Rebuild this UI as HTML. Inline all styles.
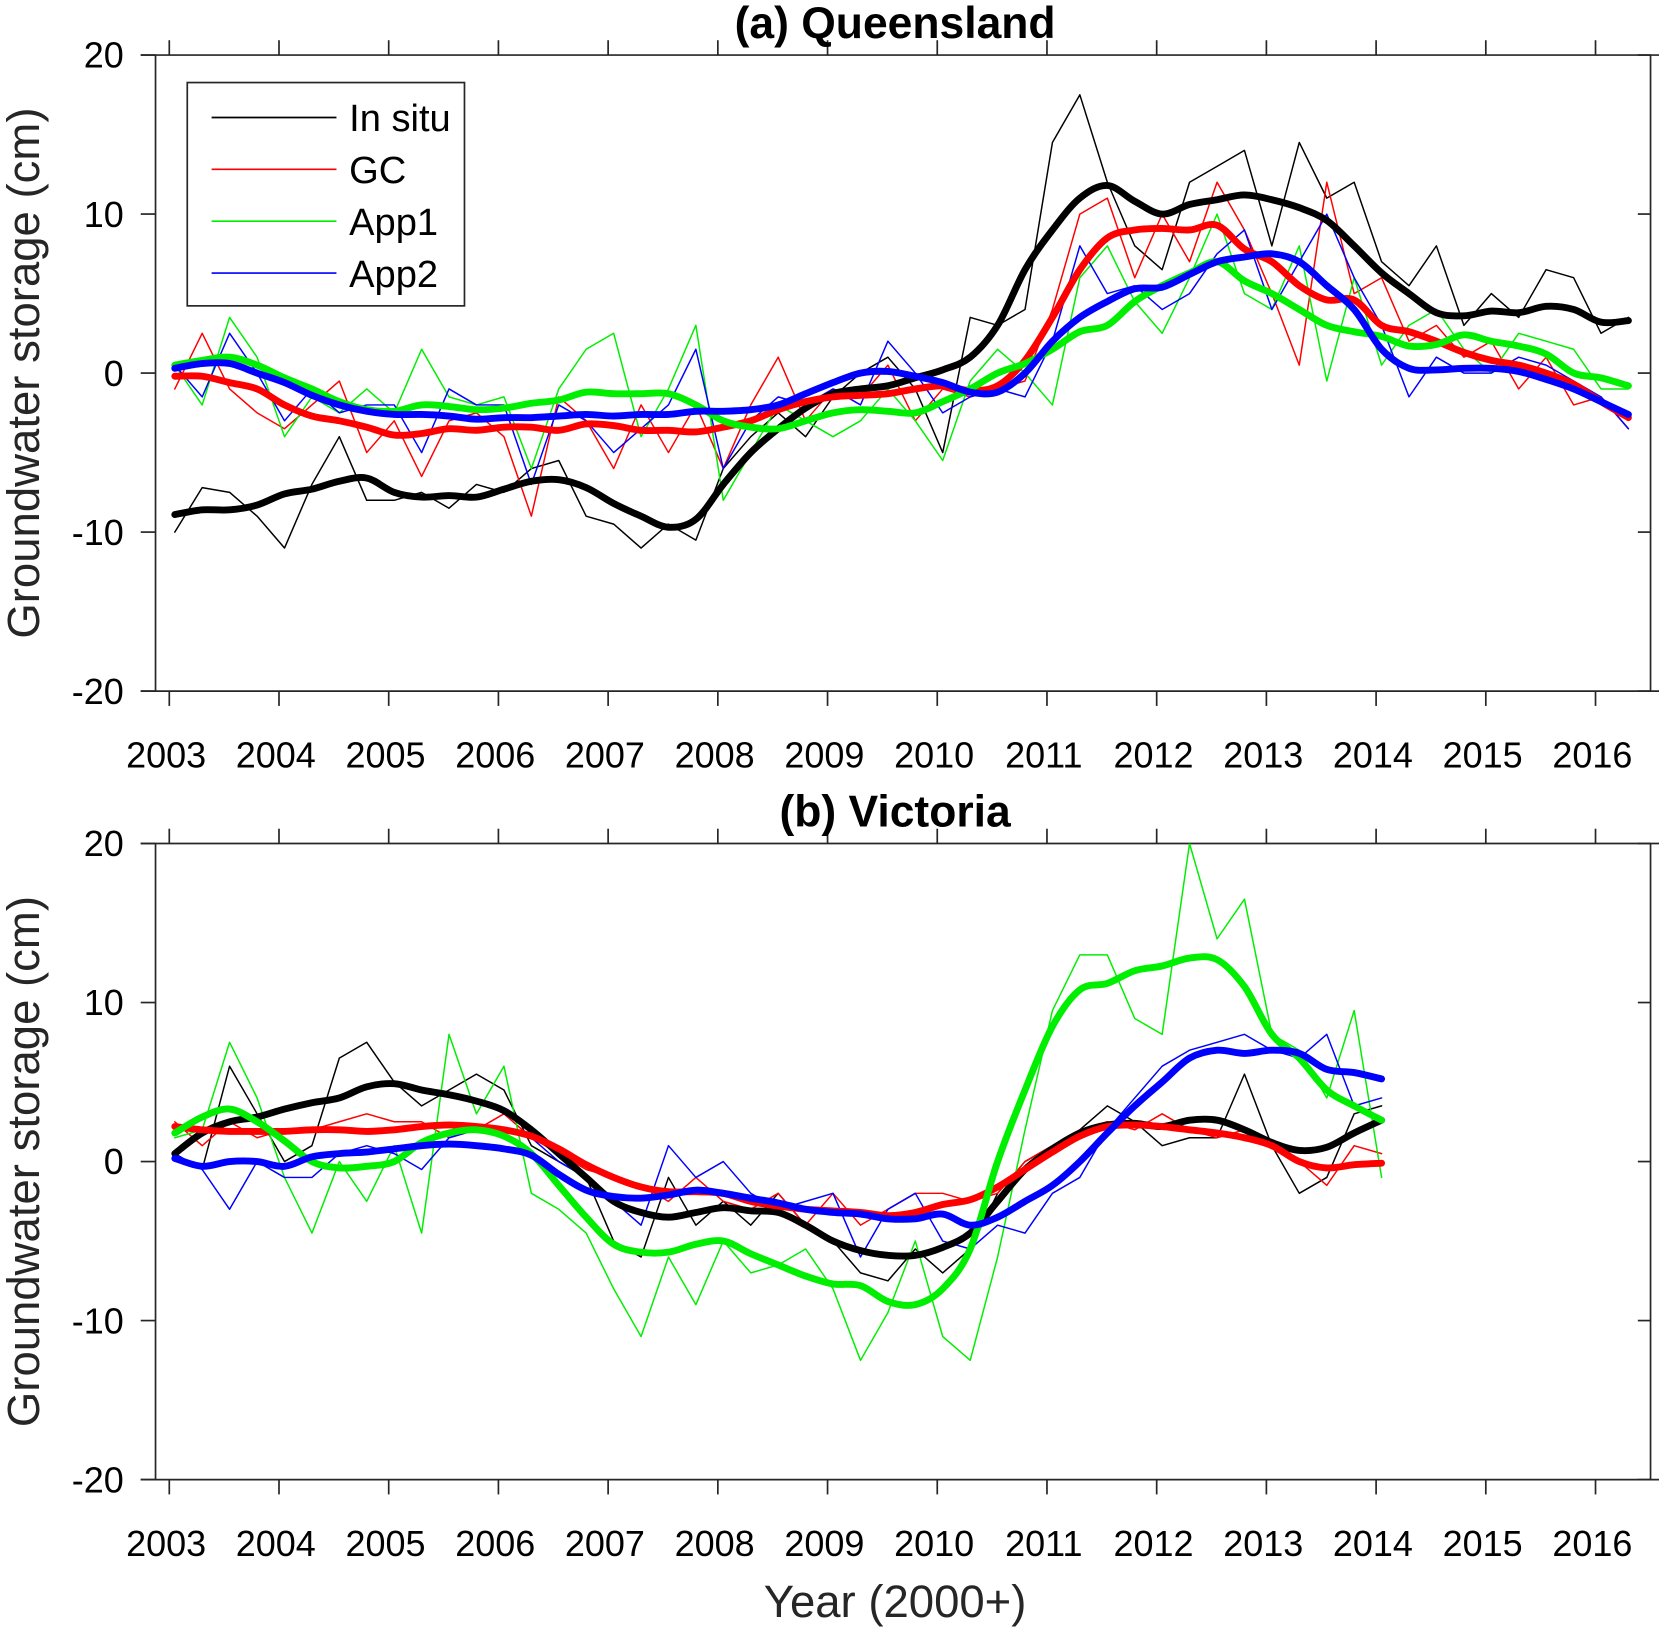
<!DOCTYPE html>
<html><head><meta charset="utf-8"><style>
html,body{margin:0;padding:0;background:#fff;}
svg{display:block;font-family:"Liberation Sans",Arial,sans-serif;}
</style></head><body>
<svg id="chart" width="1659" height="1632" viewBox="0 0 1568 1542" preserveAspectRatio="none" xmlns="http://www.w3.org/2000/svg"></svg>
<script>
// ---- data (quarterly steps starting 2003.0) ----
const years = [2003,2004,2005,2006,2007,2008,2009,2010,2011,2012,2013,2014,2015,2016];
const yTicks = [-20,-10,0,10,20];
const seriesNames = ["In situ","GC","App1","App2"];
const seriesColors = ["#000000","#ff0000","#00ee00","#0000ff"];

// Panel (a) Queensland smooth
const qSmoothInSitu = [-8.9,-8.6,-8.6,-8.3,-7.6,-7.3,-6.8,-6.6,-7.5,-7.8,-7.7,-7.8,-7.3,-6.8,-6.7,-7.2,-8.2,-9.0,-9.7,-9.2,-7.0,-5.0,-3.5,-2.2,-1.3,-1.0,-0.8,-0.3,0.2,1.0,3.0,6.5,9.0,11.0,11.8,10.8,10.0,10.6,10.9,11.2,10.9,10.4,9.6,8.0,6.3,5.0,3.8,3.6,3.9,3.8,4.2,4.0,3.2,3.3];
const qSmoothGC = [-0.2,-0.2,-0.6,-1.0,-2.0,-2.7,-3.0,-3.4,-3.9,-3.8,-3.5,-3.6,-3.4,-3.4,-3.6,-3.2,-3.3,-3.6,-3.6,-3.7,-3.4,-3.0,-2.3,-1.8,-1.5,-1.4,-1.3,-1.0,-0.8,-1.1,-0.8,0.8,3.5,6.5,8.5,9.0,9.1,9.0,9.3,7.8,7.0,5.5,4.6,4.6,3.0,2.6,2.0,1.3,0.8,0.5,0.0,-0.7,-1.8,-2.8];
const qSmoothApp1 = [0.5,0.8,1.0,0.5,-0.3,-1.0,-1.8,-2.3,-2.4,-2.0,-2.1,-2.3,-2.2,-1.9,-1.7,-1.2,-1.3,-1.3,-1.3,-2.0,-3.0,-3.4,-3.5,-3.0,-2.5,-2.3,-2.4,-2.5,-1.8,-1.0,0.0,0.6,1.5,2.6,3.0,4.5,5.5,6.3,7.0,5.8,5.0,4.0,3.0,2.6,2.3,1.7,1.8,2.4,2.0,1.7,1.2,0.0,-0.3,-0.8];
const qSmoothApp2 = [0.3,0.6,0.6,0.0,-0.6,-1.4,-2.0,-2.4,-2.6,-2.6,-2.7,-2.9,-2.8,-2.8,-2.7,-2.6,-2.7,-2.6,-2.6,-2.4,-2.4,-2.3,-2.0,-1.3,-0.6,0.0,0.1,-0.2,-0.6,-1.2,-1.2,0.0,2.0,3.5,4.5,5.3,5.4,6.2,7.0,7.3,7.5,7.0,5.5,4.0,1.5,0.3,0.2,0.3,0.3,0.1,-0.4,-1.0,-1.8,-2.6];
// Panel (a) raw
const qRawInSitu = [-10,-7.2,-7.5,-9,-11,-7,-4,-8,-8,-7.5,-8.5,-7,-7.5,-6,-5.5,-9,-9.5,-11,-9.5,-10.5,-6,-4,-2.5,-4,-1.5,0,1,-1,-5,3.5,3,4,14.5,17.5,12,8,6.5,12,13,14,8,14.5,11,12,7,5.5,8,3,5,3.5,6.5,6,2.5,3.5];
const qRawGC = [-1,2.5,-1,-2.5,-3.5,-2,-0.5,-5,-3,-6.5,-3,-2.5,-4,-9,-1.5,-3,-6,-2,-5,-2,-6,-2,1,-3,-1,-1.5,0.5,-3,-1,-1.5,-1,-0.5,4,10,11,6,10,7,12,9,5,0.5,12,5,6,2,3,1,2,-1,1,-2,-1.5,-3.5];
const qRawApp1 = [0.5,-2,3.5,1,-4,-1.5,-2.5,-1,-2.5,1.5,-1.5,-2,-1.5,-6,-1,1.5,2.5,-4,-1,3,-8,-5,-2,-3,-4,-3,-1,-3,-5.5,-0.5,1.5,0,-2,6,8,4.5,2.5,6,10,5,4,8,-0.5,6,0.5,3,4,1.5,0,2.5,2,1.5,-1,-1];
const qRawApp2 = [0.5,-1.5,2.5,0,-3,-1,-2.5,-2,-2,-5,-1,-2,-2,-7,-2,-3,-5,-3.5,-2,1.5,-6,-3,-1.5,-2,-1,-2,2,0,-2.5,-1.5,-1,-1.5,2,8,5,5.5,4,5,7.5,9,4,7,10,6,3,-1.5,1,0,0,1,0.5,-0.5,-1.5,-3.5];

// Panel (b) Victoria smooth
const vSmoothInSitu = [0.5,1.8,2.5,2.8,3.3,3.7,4.0,4.7,4.9,4.5,4.2,3.8,3.2,2.0,0.5,-1.0,-2.5,-3.2,-3.5,-3.2,-2.9,-3.1,-3.2,-4.0,-5.0,-5.6,-5.9,-5.9,-5.4,-4.5,-2.5,-0.5,0.8,1.8,2.3,2.4,2.2,2.6,2.6,2.0,1.2,0.7,0.9,1.8,2.6];
const vSmoothGC = [2.2,2.0,1.9,1.9,1.9,2.0,2.0,1.9,2.0,2.2,2.3,2.2,2.0,1.6,0.8,-0.2,-1.0,-1.6,-1.9,-1.9,-2.0,-2.5,-2.8,-3.0,-3.1,-3.2,-3.4,-3.2,-2.7,-2.4,-1.6,-0.5,0.6,1.6,2.2,2.3,2.2,2.0,1.8,1.5,1.0,0.0,-0.4,-0.2,-0.1];
const vSmoothApp1 = [1.8,2.8,3.3,2.5,1.3,0.0,-0.4,-0.3,0.0,1.2,1.8,2.0,1.6,0.5,-1.5,-3.5,-5.2,-5.7,-5.7,-5.2,-5.0,-5.8,-6.5,-7.2,-7.7,-7.8,-8.8,-9.0,-8.0,-5.5,0.0,4.5,8.5,10.8,11.2,12.0,12.3,12.8,12.7,11.0,8.0,6.5,4.5,3.5,2.6];
const vSmoothApp2 = [0.2,-0.3,0.0,0.0,-0.3,0.3,0.5,0.6,0.8,1.0,1.1,1.0,0.8,0.4,-0.8,-1.8,-2.2,-2.3,-2.1,-1.8,-2.0,-2.3,-2.6,-3.0,-3.2,-3.3,-3.6,-3.6,-3.3,-4.0,-3.5,-2.5,-1.5,0.0,1.8,3.5,5.0,6.5,7.0,6.8,7.0,6.8,5.8,5.6,5.2];
// Panel (b) raw
const vRawInSitu = [0.5,-0.5,6,3,0,1,6.5,7.5,5,3.5,4.5,5.5,4.5,1,0,-1,-5,-6,-1,-4,-2.5,-4,-2,-4,-5,-7,-7.5,-5.5,-7,-5.5,-2,0,1,2,3.5,2.5,1,1.5,1.5,5.5,1,-2,-1,3,3.5];
const vRawGC = [2.5,1,2.5,1.5,2,2,2.5,3,2.5,2.5,1.5,2,3,1.5,0.5,-0.5,-1,-1.5,-2.5,-1,-2.5,-3,-2,-4,-2,-4,-3,-2,-2,-2.5,-2,0,1,2,2.5,2,3,2,1.5,2,1,0,-1.5,1,0.5];
const vRawApp1 = [1.5,2,7.5,4,-1,-4.5,0,-2.5,1,-4.5,8,3,6,-2,-3,-4.5,-8,-11,-6,-9,-5,-7,-6.5,-5.5,-8,-12.5,-9.5,-5,-11,-12.5,-6,2,9.5,13,13,9,8,20,14,16.5,8,7,4,9.5,-1];
const vRawApp2 = [0.5,-0.5,-3,0,-1,-1,0.5,1,0.5,-0.5,1.5,2,2,1.5,0,-1,-2.5,-4,1,-1,0,-2,-3,-2.5,-2,-6,-3,-2,-5,-5.5,-4,-4.5,-2,-1,2,4,6,7,7.5,8,7,6.5,8,3.5,4];

// ---- layout ----
const svg = document.getElementById('chart');
const NS = "http://www.w3.org/2000/svg";
const X0 = 160, PX_YEAR = (1508-160)/13;
const xScale = t => X0 + (t - 2003) * PX_YEAR;
function mk(tag, attrs, parent){
  const e = document.createElementNS(NS, tag);
  for (const k in attrs) e.setAttribute(k, attrs[k]);
  (parent||svg).appendChild(e);
  return e;
}
function smoothPath(pts){
  if (!pts.length) return '';
  let d = 'M' + pts[0][0].toFixed(1) + ',' + pts[0][1].toFixed(1);
  for (let i = 0; i < pts.length - 1; i++) {
    const p0 = pts[i-1] || pts[i], p1 = pts[i], p2 = pts[i+1], p3 = pts[i+2] || p2;
    const c1 = [p1[0] + (p2[0]-p0[0])/6, p1[1] + (p2[1]-p0[1])/6];
    const c2 = [p2[0] - (p3[0]-p1[0])/6, p2[1] - (p3[1]-p1[1])/6];
    d += 'C' + c1.map(v=>v.toFixed(1)).join(',') + ' ' + c2.map(v=>v.toFixed(1)).join(',') + ' ' + p2.map(v=>v.toFixed(1)).join(',');
  }
  return d;
}
function panel(top, bottom, title, raws, smooths, id){
  const g = mk('g', {});
  
  
  const yScale = v => top + (20 - v) / 40 * (bottom - top);
  const L = 147, R = 1560;
  const cp = mk('clipPath', {id: 'clip-'+id}, g);
  mk('rect', {x: L, y: top, width: R-L, height: bottom-top}, cp);
  const ax = mk('g', {stroke:'#262626','stroke-width':1.6,fill:'none'}, g);
  
  
  mk('line', {x1:133,y1:top,x2:1568,y2:top}, ax);
  mk('line', {x1:133,y1:bottom,x2:1568,y2:bottom}, ax);
  mk('line', {x1:L,y1:top,x2:L,y2:bottom}, ax);
  mk('line', {x1:R,y1:top,x2:R,y2:bottom}, ax);
  years.forEach(yr => {
    const x = xScale(yr);
    mk('line', {x1:x,y1:bottom,x2:x,y2:bottom+14}, ax);
    mk('line', {x1:x,y1:top,x2:x,y2:top-14}, ax);
    const t = mk('text', {x:x-3, y:bottom+72, 'text-anchor':'middle','font-size':34, fill:'#000'}, g);
    t.textContent = yr;
    
    
  });
  yTicks.forEach(v => {
    const y = yScale(v);
    mk('line', {x1:L-14,y1:y,x2:L,y2:y}, ax);
    mk('line', {x1:R-12,y1:y,x2:R,y2:y}, ax);
    const t = mk('text', {x:117, y:y+12, 'text-anchor':'end','font-size':34, fill:'#000'}, g);
    t.textContent = v;
    
    
  });
  const ttl = mk('text', {x:846, y:top-16, 'text-anchor':'middle','font-size':42,'font-weight':'bold', fill:'#000'}, g);
  ttl.textContent = title;
  
  
  const yl = mk('text', {x:0, y:0, transform:`translate(37,${(top+bottom)/2}) rotate(-90)`, 'text-anchor':'middle','font-size':43, fill:'#262626'}, g);
  yl.textContent = 'Groundwater storage (cm)';
  
  
  const plot = mk('g', {'clip-path':`url(#clip-${id})`, fill:'none','stroke-linejoin':'round','stroke-linecap':'round'}, g);
  const ptsOf = (arr) => arr.map((v,i) => v==null ? null : [xScale(2003+0.25*i+0.05), yScale(v)]).filter(p=>p);
  const lineOf = (arr) => ptsOf(arr).map((p,i)=>(i?'L':'M')+p[0].toFixed(1)+','+p[1].toFixed(1)).join('');
  raws.forEach((arr, k) => {
    const p = mk('path', {d: lineOf(arr), stroke: seriesColors[k], 'stroke-width':1.4}, plot);
    
    
  });
  smooths.forEach((arr, k) => {
    const p = mk('path', {d: smoothPath(ptsOf(arr)), stroke: seriesColors[k], 'stroke-width':6.5}, plot);
    
    
  });
}
panel(52, 653, '(a) Queensland', [qRawInSitu,qRawGC,qRawApp1,qRawApp2], [qSmoothInSitu,qSmoothGC,qSmoothApp1,qSmoothApp2], 'queensland');
panel(797, 1398, '(b) Victoria', [vRawInSitu,vRawGC,vRawApp1,vRawApp2], [vSmoothInSitu,vSmoothGC,vSmoothApp1,vSmoothApp2], 'victoria');

const xl = mk('text', {x:846, y:1528, 'text-anchor':'middle','font-size':43, fill:'#262626'});
xl.textContent = 'Year (2000+)';



const lg = mk('g', {});


mk('rect', {x:177, y:78, width:262, height:211, fill:'#fff', stroke:'#262626','stroke-width':1.6}, lg);
seriesNames.forEach((n, k) => {
  const y = 111 + 49*k;
  const e = mk('g', {}, lg);
  
  
  mk('line', {x1:200, y1:y, x2:318, y2:y, stroke:seriesColors[k], 'stroke-width':1.6}, e);
  const t = mk('text', {x:330, y:y+13, 'font-size':36, fill:'#000'}, e);
  t.textContent = n;
});
</script>
</body></html>
